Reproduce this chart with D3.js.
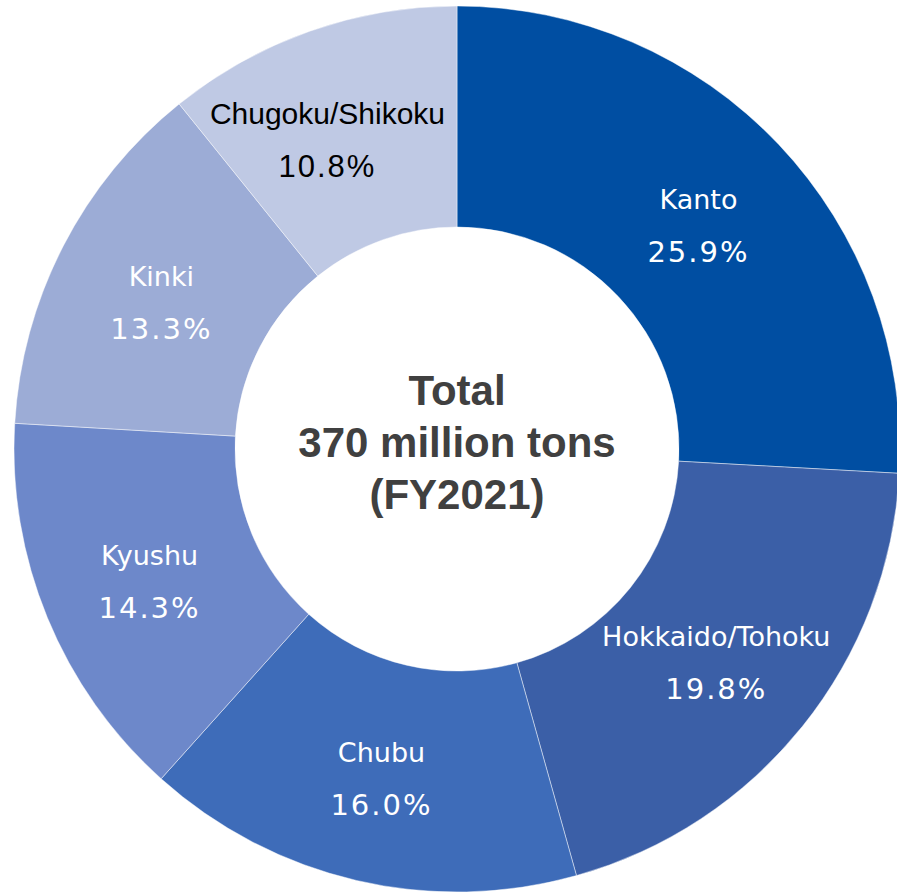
<!DOCTYPE html>
<html>
<head>
<meta charset="utf-8">
<script src="https://cdn.jsdelivr.net/npm/d3@7"></script>
<style>
  html, body { margin: 0; padding: 0; background: #fff; }
  svg { display: block; }
</style>
</head>
<body>
<svg id="chart"></svg>
<script>
// regions, clockwise from 12 o'clock
const regions = ['Kanto', 'Hokkaido/Tohoku', 'Chubu', 'Kyushu', 'Kinki', 'Chugoku/Shikoku'];
const shares = [25.9, 19.8, 16.0, 14.3, 13.3, 10.8];
const colors = ['#004ea2', '#3b5fa7', '#3e6cb9', '#6d88ca', '#9cacd6', '#bfc9e4'];
const centerLines = ['Total', '370 million tons', '(FY2021)'];

const width = 897;
const height = 894;
const cx = 457;
const cy = 449;
const outerR = 443;
const innerR = 222;

const svg = d3.select('#chart')
  .attr('width', width)
  .attr('height', height);

const g = svg.append('g')
  .attr('transform', `translate(${cx},${cy})`);

const pie = d3.pie()
  .value(d => d.share)
  .sort(null);

const arc = d3.arc()
  .innerRadius(innerR)
  .outerRadius(outerR);

const data = regions.map((name, i) => ({ name, share: shares[i], color: colors[i] }));

const slices = g.selectAll('.slice')
  .data(pie(data))
  .enter().append('g')
  .attr('class', 'slice');

slices.append('path')
  .attr('d', arc)
  .attr('fill', d => d.data.color)
  .attr('stroke', 'rgba(255,255,255,0.45)')
  .attr('stroke-width', 1);

// last (light) slice has dark text, and its wide label sits a bit left
const isLight = d => d.index === regions.length - 1;
const labelShift = d => (isLight(d) ? -19 : 0);

slices.append('text')
  .attr('x', d => arc.centroid(d)[0] + labelShift(d))
  .attr('y', d => arc.centroid(d)[1] - 11)
  .attr('text-anchor', 'middle')
  .style('font-family', d => (isLight(d) ? 'Liberation Sans, Arial, sans-serif' : 'DejaVu Sans, sans-serif'))
  .style('font-size', d => (isLight(d) ? '30px' : '27px'))
  .style('fill', d => (isLight(d) ? '#000' : '#fff'))
  .text(d => d.data.name);

slices.append('text')
  .attr('x', d => arc.centroid(d)[0] + labelShift(d))
  .attr('y', d => arc.centroid(d)[1] + 42)
  .attr('text-anchor', 'middle')
  .style('font-family', d => (isLight(d) ? 'Liberation Sans, Arial, sans-serif' : 'DejaVu Sans, sans-serif'))
  .style('font-size', d => (isLight(d) ? '31px' : '29px'))
  .style('letter-spacing', '2px')
  .style('fill', d => (isLight(d) ? '#000' : '#fff'))
  .text(d => `${d.data.share.toFixed(1)}%`);

g.append('g')
  .selectAll('text')
  .data(centerLines)
  .enter().append('text')
  .attr('x', 0)
  .attr('y', (d, i) => -44 + i * 52)
  .attr('text-anchor', 'middle')
  .style('font-family', 'Liberation Sans, Arial, sans-serif')
  .style('font-weight', 'bold')
  .style('font-size', '42px')
  .style('fill', '#404040')
  .text(d => d);
</script>
</body>
</html>
